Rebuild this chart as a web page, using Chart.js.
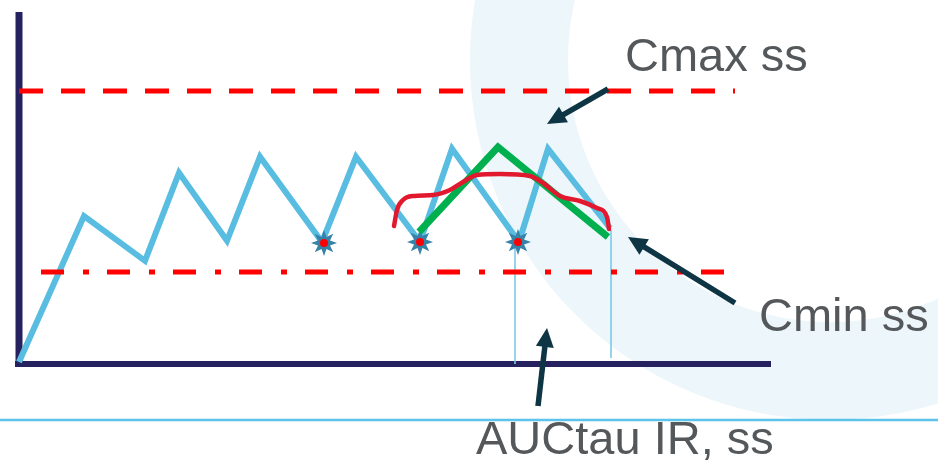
<!DOCTYPE html>
<html>
<head>
<meta charset="utf-8">
<script src="https://cdn.jsdelivr.net/npm/chart.js@4.4.1/dist/chart.umd.min.js"></script>
<style>
  html, body { margin: 0; padding: 0; background: #ffffff; }
  #wrap { width: 938px; height: 460px; }
</style>
</head>
<body>
<div id="wrap"><canvas id="pk" width="938" height="460"></canvas></div>
<script>
// Steady-state concentration profile (time in h, concentration in arbitrary units)
const doseTimes   = [0, 6.5, 12.6, 16.0, 20.8, 24.1, 30.3, 33.7, 40.1, 43.3, 50.0, 52.9, 59.1];
const doseConc    = [0.5, 37.0, 25.8, 47.8, 30.8, 51.8, 30.5, 51.8, 30.5, 53.8, 30.5, 53.8, 34.0];

// Single-interval profile at steady state
const intervalTimes = [40.0, 47.9, 58.9];
const intervalConc  = [33.0, 54.25, 31.75];

// Extended-release profile over one interval
const erTimes = [37.5, 37.8, 38.4, 39.4, 41.4, 43.1, 44.4, 45.8, 48.1, 51.1, 52.4, 54.1, 56.1, 57.8, 58.8, 59.0];
const erConc  = [34.5, 38.5, 41.0, 42.0, 42.25, 43.5, 45.5, 47.25, 47.5, 47.0, 45.25, 42.0, 40.75, 39.0, 36.75, 33.75];

// Trough samples at steady state
const troughTimes = [30.5, 40.1, 49.9];
const troughConc  = [30.25, 30.5, 30.5];

// Reference levels
const cmaxLevel = 68.25;
const cmaxSpan  = [0, 71.6];
const cminLevel = 23.0;
const cminSpan  = [2.2, 70.6];

// Dosing interval bounds (tau)
const tauStart = [49.6, 30.5];
const tauEnd   = [59.2, 33.5];

// Axis frame
const axisTop = 88;
const axisEnd = 75.2;

// Callout labels and arrows (tail -> tip)
const labelTexts = ['Cmax ss', 'Cmin ss', 'AUCtau IR, ss'];
const labelAt    = [[60.6, 73.25], [74.0, 8.25], [45.7, -22.5]];
const arrowTails = [[58.9, 68.75], [71.6, 15.25], [51.9, -10.5]];
const arrowTips  = [[52.8, 60.0], [60.9, 31.75], [52.8, 9.0]];

const pts = (xs, ys) => xs.map((x, i) => ({ x: x, y: ys[i] }));

// Trough marker: eight-pointed star with a red centre
function makeStar() {
  const c = document.createElement('canvas');
  c.width = 30; c.height = 30;
  const g = c.getContext('2d');
  const cx = 15, cy = 15, ro = 13, ri = 6.5;
  g.beginPath();
  for (let i = 0; i < 16; i++) {
    const a = -Math.PI / 2 + i * Math.PI / 8;
    const r = i % 2 === 0 ? ro : ri;
    const px = cx + r * Math.cos(a), py = cy + r * Math.sin(a);
    if (i === 0) g.moveTo(px, py); else g.lineTo(px, py);
  }
  g.closePath();
  g.fillStyle = '#3782a8';
  g.fill();
  g.beginPath();
  g.arc(cx, cy, 4, 0, Math.PI * 2);
  g.fillStyle = '#ff0000';
  g.fill();
  return c;
}

const backdrop = {
  id: 'backdrop',
  beforeDatasetsDraw(chart) {
    const ctx = chart.ctx;
    ctx.save();
    // pale ring behind the plot
    ctx.beginPath();
    ctx.arc(830, 60, 360, 0, Math.PI * 2);
    ctx.arc(830, 60, 262, 0, Math.PI * 2, true);
    ctx.fillStyle = '#edf6fa';
    ctx.fill('evenodd');
    // rule under the plot
    ctx.beginPath();
    ctx.moveTo(0, 420);
    ctx.lineTo(938, 420);
    ctx.lineWidth = 2.5;
    ctx.strokeStyle = '#5cc3ea';
    ctx.stroke();
    ctx.restore();
  }
};

const callouts = {
  id: 'callouts',
  afterDatasetsDraw(chart) {
    const ctx = chart.ctx;
    const xs = chart.scales.x, ys = chart.scales.y;
    ctx.save();
    ctx.fillStyle = '#0e3544';
    ctx.strokeStyle = '#0e3544';
    ctx.lineWidth = 5.5;
    ctx.lineCap = 'butt';
    for (let i = 0; i < arrowTails.length; i++) {
      const x0 = xs.getPixelForValue(arrowTails[i][0]);
      const y0 = ys.getPixelForValue(arrowTails[i][1]);
      const x1 = xs.getPixelForValue(arrowTips[i][0]);
      const y1 = ys.getPixelForValue(arrowTips[i][1]);
      const dx = x1 - x0, dy = y1 - y0;
      const len = Math.hypot(dx, dy);
      const ux = dx / len, uy = dy / len;
      const head = 19, half = 9;
      const bx = x1 - ux * head, by = y1 - uy * head;
      ctx.beginPath();
      ctx.moveTo(x0, y0);
      ctx.lineTo(bx + ux * 2, by + uy * 2);
      ctx.stroke();
      ctx.beginPath();
      ctx.moveTo(x1, y1);
      ctx.lineTo(bx - uy * half, by + ux * half);
      ctx.lineTo(bx + uy * half, by - ux * half);
      ctx.closePath();
      ctx.fill();
    }
    ctx.font = '47px "Liberation Sans", Arial, sans-serif';
    ctx.fillStyle = '#54585b';
    ctx.textAlign = 'left';
    ctx.textBaseline = 'alphabetic';
    for (let i = 0; i < labelTexts.length; i++) {
      ctx.fillText(labelTexts[i], xs.getPixelForValue(labelAt[i][0]), ys.getPixelForValue(labelAt[i][1]));
    }
    ctx.restore();
  }
};

const line = (data, color, width, order, extra) => Object.assign({
  data: data, borderColor: color, borderWidth: width, pointRadius: 0,
  tension: 0, fill: false, order: order, borderCapStyle: 'butt', borderJoinStyle: 'miter', clip: false
}, extra || {});

new Chart(document.getElementById('pk'), {
  type: 'line',
  data: {
    datasets: [
      line([{ x: cminSpan[0], y: cminLevel }, { x: cminSpan[1], y: cminLevel }], '#ff0000', 5, 1, { borderDash: [23, 19, 6, 18] }),
      line([{ x: cmaxSpan[0], y: cmaxLevel }, { x: cmaxSpan[1], y: cmaxLevel }], '#ff0000', 5, 2, { borderDash: [24, 18] }),
      line(pts(erTimes, erConc), '#e2182e', 4.5, 3, { cubicInterpolationMode: 'monotone', borderCapStyle: 'round', borderJoinStyle: 'round' }),
      line(pts(intervalTimes, intervalConc), '#00b04f', 7, 4),
      line(pts(troughTimes, troughConc), 'rgba(0,0,0,0)', 0, 5, { showLine: false, pointRadius: 15, pointStyle: makeStar() }),
      line(pts(doseTimes, doseConc), '#58bde0', 6, 6),
      line([{ x: tauStart[0], y: tauStart[1] }, { x: tauStart[0], y: 0 }], '#7ecae6', 1.6, 7),
      line([{ x: tauEnd[0], y: tauEnd[1] }, { x: tauEnd[0], y: 1.5 }], '#7ecae6', 1.6, 7),
      line([{ x: 0, y: axisTop }, { x: 0, y: -0.75 }], '#25225f', 7, 8),
      line([{ x: -0.4, y: 0 }, { x: axisEnd, y: 0 }], '#25225f', 6, 8)
    ]
  },
  options: {
    responsive: false,
    animation: false,
    devicePixelRatio: 1,
    layout: { padding: 0, autoPadding: false },
    scales: {
      x: { type: 'linear', display: false, min: -1.9, max: 91.9 },
      y: { type: 'linear', display: false, min: -24, max: 91 }
    },
    plugins: { legend: { display: false }, tooltip: { enabled: false }, title: { display: false } }
  },
  plugins: [backdrop, callouts]
});
</script>
</body>
</html>
